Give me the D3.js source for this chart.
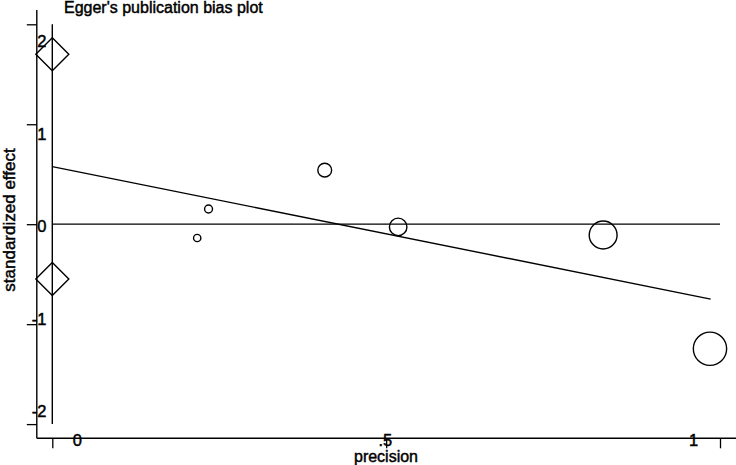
<!DOCTYPE html>
<html>
<head>
<meta charset="utf-8">
<script src="https://cdn.jsdelivr.net/npm/d3@7"></script>
<style>
  body { margin: 0; background: #fff; }
  svg { display: block; font-family: "Liberation Sans", Arial, Helvetica, sans-serif; }
  svg text { fill: #000; stroke: #000; stroke-width: 0.45px; }
</style>
</head>
<body>
<div id="chart"></div>
<script>
// study points: precision vs standardized effect
const precision = [0.217, 0.234, 0.408, 0.518, 0.825, 0.985];
const stdEffect = [-0.138, 0.152, 0.541, -0.027, -0.108, -1.246];

// Egger regression line (from precision 0 to max precision)
const eggerX = [0, 0.986];
const eggerY = [0.576, -0.749];

// confidence limits of the intercept (diamonds at precision 0)
const interceptCI = [1.70, -0.549];

const xTicks = [0, 0.5, 1];
const xTickLabels = ["0", ".5", "1"];
const yTicks = [2, 1, 0, -1, -2];
const yTickLabels = ["2", "1", "0", "-1", "-2"];

const W = 736, H = 465;

const svg = d3.select("#chart")
    .append("svg")
    .attr("width", W)
    .attr("height", H);

// plot scales
const x = d3.scaleLinear().domain([0, 1]).range([52.3, 720]);
const y = d3.scaleLinear().domain([-2, 2]).range([424.1, 24.3]);
// marker size follows precision
const r = d3.scaleLinear().domain([0, 1]).range([0, 16.9]);
// label placement (labels sit a bit inside the ticks)
const xLab = d3.scaleLinear().domain([0, 1]).range([77.3, 693.5]);
const yLab = d3.scaleLinear().domain([-2, 2]).range([411.5, 41.5]);

const axisX0 = 36.8, axisY0 = 438.3;

// Y axis ticks
svg.append("g")
    .attr("transform", `translate(${axisX0},0)`)
    .call(d3.axisLeft(y).tickValues(yTicks).tickSize(10).tickFormat(""))
    .call(g => g.select(".domain").remove())
    .selectAll("line").attr("stroke", "#000").attr("stroke-width", 1.3);

svg.append("line")
    .attr("x1", axisX0).attr("x2", axisX0)
    .attr("y1", 10).attr("y2", axisY0)
    .attr("stroke", "#000").attr("stroke-width", 1.4);

// X axis ticks
svg.append("g")
    .attr("transform", `translate(0,${axisY0})`)
    .call(d3.axisBottom(x).tickValues(xTicks).tickSize(10).tickFormat(""))
    .call(g => g.select(".domain").remove())
    .selectAll("line").attr("stroke", "#000").attr("stroke-width", 1.3);

svg.append("line")
    .attr("x1", axisX0).attr("x2", W)
    .attr("y1", axisY0).attr("y2", axisY0)
    .attr("stroke", "#000").attr("stroke-width", 1.4);

// tick labels
svg.append("g").selectAll("text")
    .data(yTicks)
    .join("text")
    .attr("x", 46.5)
    .attr("y", d => yLab(d))
    .attr("dy", "0.36em")
    .attr("text-anchor", "end")
    .attr("font-size", 16.5)
    .text((d, i) => yTickLabels[i]);

svg.append("g").selectAll("text")
    .data(xTicks)
    .join("text")
    .attr("x", d => xLab(d))
    .attr("y", 440)
    .attr("dy", "0.36em")
    .attr("text-anchor", "middle")
    .attr("font-size", 16.5)
    .text((d, i) => xTickLabels[i]);

// vertical line at precision 0
svg.append("line")
    .attr("x1", x(0)).attr("x2", x(0))
    .attr("y1", y(2)).attr("y2", y(-2))
    .attr("stroke", "#000").attr("stroke-width", 1.4);

// zero reference line
svg.append("line")
    .attr("x1", x(0)).attr("x2", x(1))
    .attr("y1", y(0)).attr("y2", y(0))
    .attr("stroke", "#000").attr("stroke-width", 1.3);

// Egger regression line
svg.append("path")
    .datum(eggerX.map((d, i) => [d, eggerY[i]]))
    .attr("fill", "none")
    .attr("stroke", "#000")
    .attr("stroke-width", 1.4)
    .attr("d", d3.line().x(d => x(d[0])).y(d => y(d[1])));

// intercept CI diamonds
const dh = 16.5;
svg.append("g").selectAll("path")
    .data(interceptCI)
    .join("path")
    .attr("fill", "none")
    .attr("stroke", "#000")
    .attr("stroke-width", 1.4)
    .attr("d", d => {
        const cx = x(0), cy = y(d);
        return `M${cx - dh},${cy}L${cx},${cy - dh}L${cx + dh},${cy}L${cx},${cy + dh}Z`;
    });

// study circles
svg.append("g").selectAll("circle")
    .data(precision)
    .join("circle")
    .attr("cx", d => x(d))
    .attr("cy", (d, i) => y(stdEffect[i]))
    .attr("r", d => r(d))
    .attr("fill", "none")
    .attr("stroke", "#000")
    .attr("stroke-width", 1.4);

// titles
svg.append("text")
    .attr("x", 64)
    .attr("y", 13)
    .attr("font-size", 16)
    .text("Egger's publication bias plot");

svg.append("text")
    .attr("x", 386)
    .attr("y", 462)
    .attr("text-anchor", "middle")
    .attr("font-size", 16)
    .text("precision");

svg.append("text")
    .attr("transform", "translate(15,220) rotate(-90)")
    .attr("text-anchor", "middle")
    .attr("font-size", 17)
    .text("standardized effect");
</script>
</body>
</html>
